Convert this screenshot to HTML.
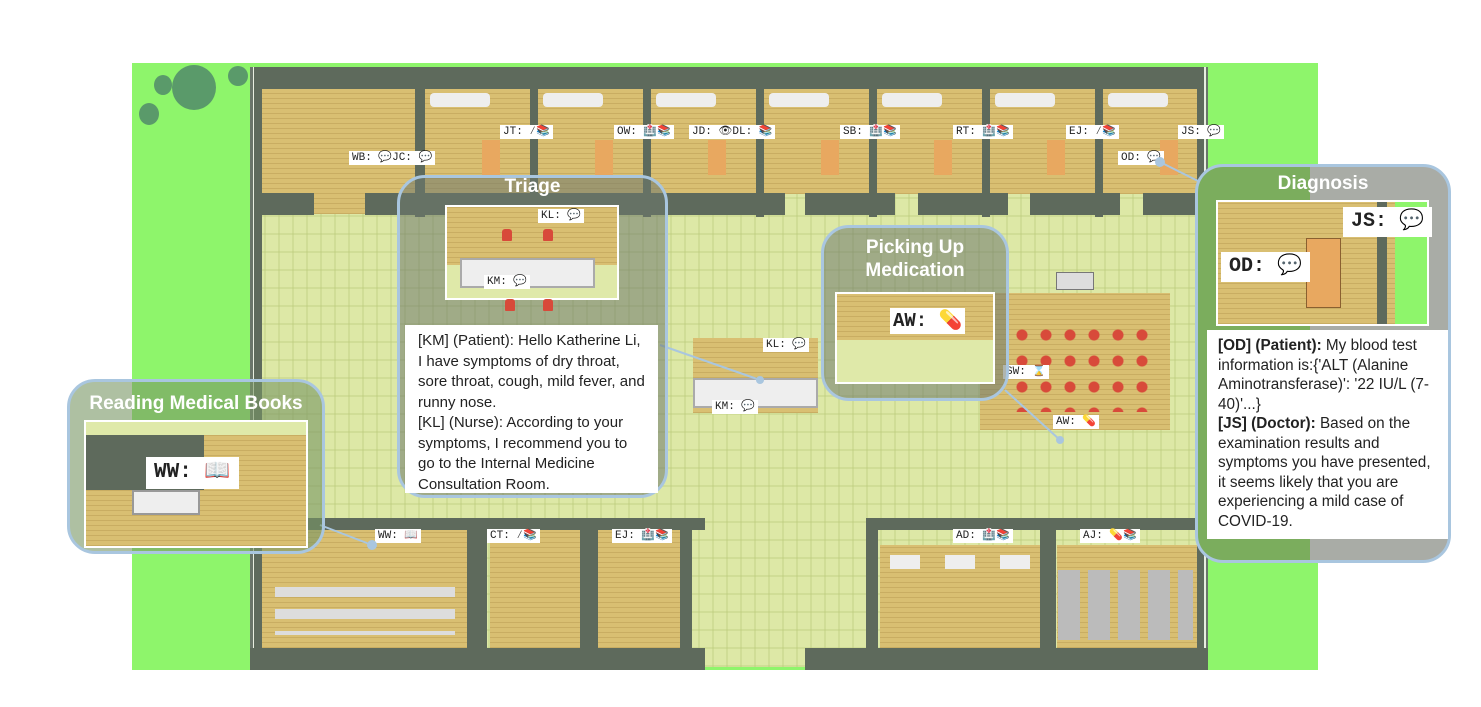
<!DOCTYPE html>
<html><head><meta charset="utf-8"><style>
body{margin:0;width:1481px;height:707px;background:#fff;position:relative;overflow:hidden;font-family:"Liberation Sans",sans-serif}
div{position:absolute;box-sizing:border-box}
.g{background:#8ef56b}
.hall{background:#dde8a6;background-image:repeating-linear-gradient(90deg,rgba(185,200,120,.35) 0 2px,transparent 2px 14px),repeating-linear-gradient(0deg,rgba(185,200,120,.35) 0 2px,transparent 2px 18px)}
.w{background:#5e6a5c}
.wood{background:#d9bf72;background-image:repeating-linear-gradient(0deg,#c9ad62 0 1px,transparent 1px 5px)}
.lbl{background:#fff;font-family:"Liberation Mono",monospace;font-size:11px;line-height:14px;padding:0 3px;color:#222}
.ov{border:3px solid #a9c6df;border-radius:28px;background:rgba(110,120,110,.55)}
.t{color:#fff;font-weight:bold;font-size:19px;text-align:center}
.tb{background:#fff;font-size:15px;line-height:20.5px;color:#222;padding:6px 11px}
.ch{background:#d84a3a;width:10px;height:12px;border-radius:3px 3px 1px 1px}
</style></head><body>
<div class="g" style="left:132px;top:63px;width:1186px;height:607px"></div>
<div class="hall" style="left:250px;top:67px;width:958px;height:600px"></div>
<div class="w" style="left:250px;top:67px;width:958px;height:22px"></div>
<div style="left:250px;top:67px;width:12px;height:600px;background:#e8eee0;border-left:3px solid #6a756a;border-right:8px solid #5e6a5c"></div>
<div style="left:1197px;top:67px;width:11px;height:600px;background:#e8eee0;border-left:7px solid #5e6a5c;border-right:2px solid #6a756a"></div>
<div class="wood" style="left:262px;top:89px;width:153px;height:125px"></div>
<div class="wood" style="left:425px;top:89px;width:105px;height:105px"></div>
<div class="wood" style="left:538px;top:89px;width:105px;height:105px"></div>
<div class="wood" style="left:651px;top:89px;width:105px;height:105px"></div>
<div class="wood" style="left:764px;top:89px;width:105px;height:105px"></div>
<div class="wood" style="left:877px;top:89px;width:105px;height:105px"></div>
<div class="wood" style="left:990px;top:89px;width:105px;height:105px"></div>
<div class="wood" style="left:1103px;top:89px;width:94px;height:105px"></div>
<div class="w" style="left:415px;top:67px;width:10px;height:150px"></div>
<div class="w" style="left:530px;top:67px;width:8px;height:150px"></div>
<div class="w" style="left:643px;top:67px;width:8px;height:150px"></div>
<div class="w" style="left:756px;top:67px;width:8px;height:150px"></div>
<div class="w" style="left:869px;top:67px;width:8px;height:150px"></div>
<div class="w" style="left:982px;top:67px;width:8px;height:150px"></div>
<div class="w" style="left:1095px;top:67px;width:8px;height:150px"></div>
<div class="w" style="left:262px;top:193px;width:52px;height:22px"></div>
<div class="w" style="left:365px;top:193px;width:420px;height:22px"></div>
<div class="w" style="left:805px;top:193px;width:90px;height:22px"></div>
<div class="w" style="left:918px;top:193px;width:90px;height:22px"></div>
<div class="w" style="left:1030px;top:193px;width:90px;height:22px"></div>
<div class="w" style="left:1143px;top:193px;width:54px;height:22px"></div>
<div style="left:482px;top:140px;width:18px;height:35px;background:#e8a860"></div>
<div style="left:595px;top:140px;width:18px;height:35px;background:#e8a860"></div>
<div style="left:708px;top:140px;width:18px;height:35px;background:#e8a860"></div>
<div style="left:821px;top:140px;width:18px;height:35px;background:#e8a860"></div>
<div style="left:934px;top:140px;width:18px;height:35px;background:#e8a860"></div>
<div style="left:1047px;top:140px;width:18px;height:35px;background:#e8a860"></div>
<div style="left:1160px;top:140px;width:18px;height:35px;background:#e8a860"></div>
<div style="left:430px;top:93px;width:60px;height:14px;background:#eee;border-radius:4px"></div>
<div style="left:543px;top:93px;width:60px;height:14px;background:#eee;border-radius:4px"></div>
<div style="left:656px;top:93px;width:60px;height:14px;background:#eee;border-radius:4px"></div>
<div style="left:769px;top:93px;width:60px;height:14px;background:#eee;border-radius:4px"></div>
<div style="left:882px;top:93px;width:60px;height:14px;background:#eee;border-radius:4px"></div>
<div style="left:995px;top:93px;width:60px;height:14px;background:#eee;border-radius:4px"></div>
<div style="left:1108px;top:93px;width:60px;height:14px;background:#eee;border-radius:4px"></div>
<div class="lbl" style="left:349px;top:151px">WB: 💬JC: 💬</div>
<div class="lbl" style="left:500px;top:125px">JT: ⁄📚</div>
<div class="lbl" style="left:614px;top:125px">OW: 🏥📚</div>
<div class="lbl" style="left:689px;top:125px">JD: 👁DL: 📚</div>
<div class="lbl" style="left:840px;top:125px">SB: 🏥📚</div>
<div class="lbl" style="left:953px;top:125px">RT: 🏥📚</div>
<div class="lbl" style="left:1066px;top:125px">EJ: ⁄📚</div>
<div class="lbl" style="left:1178px;top:125px">JS: 💬</div>
<div class="lbl" style="left:1118px;top:151px">OD: 💬</div>
<div class="wood" style="left:693px;top:338px;width:125px;height:75px"></div>
<div style="left:693px;top:378px;width:125px;height:30px;background:#eee;border:2px solid #aaa"></div>
<div class="lbl" style="left:763px;top:338px">KL: 💬</div>
<div class="lbl" style="left:712px;top:400px">KM: 💬</div>
<div class="wood" style="left:980px;top:293px;width:190px;height:137px"></div>
<div style="left:1056px;top:272px;width:38px;height:18px;background:#ddd;border:1px solid #777"></div>
<div style="left:1010px;top:322px;width:140px;height:90px;background-image:radial-gradient(circle,#d84a3a 0 5px,transparent 6px);background-size:24px 26px"></div>
<div class="lbl" style="left:1003px;top:365px">SW: ⌛</div>
<div class="lbl" style="left:1053px;top:415px">AW: 💊</div>
<div class="w" style="left:250px;top:518px;width:455px;height:12px"></div>
<div class="w" style="left:872px;top:518px;width:336px;height:12px"></div>
<div class="wood" style="left:262px;top:530px;width:205px;height:118px"></div>
<div class="wood" style="left:490px;top:530px;width:90px;height:118px"></div>
<div class="wood" style="left:598px;top:530px;width:82px;height:118px"></div>
<div class="wood" style="left:880px;top:545px;width:160px;height:103px"></div>
<div class="wood" style="left:1057px;top:545px;width:140px;height:103px"></div>
<div class="w" style="left:467px;top:518px;width:20px;height:130px"></div>
<div class="w" style="left:580px;top:518px;width:18px;height:130px"></div>
<div class="w" style="left:680px;top:518px;width:12px;height:130px"></div>
<div class="w" style="left:866px;top:518px;width:12px;height:130px"></div>
<div class="w" style="left:1040px;top:518px;width:16px;height:130px"></div>
<div class="w" style="left:250px;top:648px;width:455px;height:22px"></div>
<div class="w" style="left:805px;top:648px;width:403px;height:22px"></div>
<div style="left:1058px;top:570px;width:135px;height:70px;background-image:linear-gradient(90deg,#bbb 0 22px,transparent 22px 28px);background-size:30px 100%"></div>
<div style="left:890px;top:555px;width:140px;height:14px;background-image:linear-gradient(90deg,#eee 0 30px,transparent 30px 55px);background-size:55px 100%"></div>
<div style="left:275px;top:575px;width:180px;height:60px;background-image:linear-gradient(0deg,#ddd 0 10px,transparent 10px 22px);background-size:100% 22px"></div>
<div class="lbl" style="left:375px;top:529px">WW: 📖</div>
<div class="lbl" style="left:487px;top:529px">CT: ⁄📚</div>
<div class="lbl" style="left:612px;top:529px">EJ: 🏥📚</div>
<div class="lbl" style="left:953px;top:529px">AD: 🏥📚</div>
<div class="lbl" style="left:1080px;top:529px">AJ: 💊📚</div>
<div style="left:172px;top:65px;width:44px;height:45px;border-radius:50%;background:#5a9a6a"></div>
<div style="left:139px;top:103px;width:20px;height:22px;border-radius:50%;background:#5a9a6a"></div>
<div style="left:154px;top:75px;width:18px;height:20px;border-radius:50%;background:#5a9a6a"></div>
<div style="left:228px;top:66px;width:20px;height:20px;border-radius:50%;background:#5a9a6a"></div>
<svg style="position:absolute;left:0;top:0" width="1481" height="707"><g stroke="#a9c6df" stroke-width="2" fill="#a9c6df">
<line x1="660" y1="345" x2="760" y2="380"/><line x1="1005" y1="390" x2="1060" y2="440"/><line x1="320" y1="525" x2="372" y2="545"/><line x1="1160" y1="162" x2="1200" y2="182"/>
<circle cx="760" cy="380" r="3"/><circle cx="1060" cy="440" r="3"/><circle cx="372" cy="545" r="4"/><circle cx="1160" cy="162" r="4"/></g></svg>
<div class="ov" style="left:397px;top:175px;width:271px;height:323px"></div>
<div class="t" style="left:397px;top:176px;width:271px">Triage</div>
<div class="wood" style="left:445px;top:205px;width:174px;height:95px;border:2px solid #fff"></div>
<div style="left:447px;top:265px;width:170px;height:33px;background:#dfe9a9"></div>
<div style="left:460px;top:258px;width:135px;height:30px;background:#eee;border:2px solid #aaa"></div>
<div class="lbl" style="left:538px;top:209px">KL: 💬</div>
<div class="lbl" style="left:484px;top:275px">KM: 💬</div>
<div class="ch" style="left:502px;top:229px"></div><div class="ch" style="left:543px;top:229px"></div>
<div class="ch" style="left:505px;top:299px"></div><div class="ch" style="left:543px;top:299px"></div>
<div class="tb" style="left:405px;top:325px;width:253px;height:168px;padding:6px 10px 6px 13px">[KM] (Patient): Hello Katherine Li, I have symptoms of dry throat, sore throat, cough, mild fever, and runny nose.<br>[KL] (Nurse): According to your symptoms, I recommend you to go to the Internal Medicine Consultation Room.</div>
<div class="ov" style="left:821px;top:225px;width:188px;height:176px"></div>
<div class="t" style="left:821px;top:236px;width:188px;line-height:23px">Picking Up<br>Medication</div>
<div class="wood" style="left:835px;top:292px;width:160px;height:92px;border:2px solid #fff"></div>
<div style="left:837px;top:340px;width:156px;height:42px;background:#dfe9a9"></div>
<div class="lbl" style="left:890px;top:308px;font-size:19px;line-height:26px;font-weight:bold">AW: 💊</div>
<div class="ov" style="left:67px;top:379px;width:258px;height:175px;background:rgba(120,150,100,.6)"></div>
<div class="t" style="left:67px;top:393px;width:258px">Reading Medical Books</div>
<div class="wood" style="left:84px;top:420px;width:224px;height:128px;border:2px solid #fff"></div>
<div class="w" style="left:86px;top:435px;width:118px;height:55px"></div>
<div style="left:86px;top:422px;width:220px;height:13px;background:#dfe9a9"></div>
<div class="lbl" style="left:146px;top:457px;font-size:21px;line-height:32px;font-weight:bold;padding:0 8px">WW: 📖</div>
<div style="left:132px;top:490px;width:68px;height:25px;background:#eee;border:2px solid #999"></div>
<div class="ov" style="left:1195px;top:164px;width:256px;height:399px;background:linear-gradient(90deg,#7bad5d 0 112px,#a9aca6 112px)"></div>
<div class="t" style="left:1195px;top:173px;width:256px">Diagnosis</div>
<div class="wood" style="left:1216px;top:200px;width:213px;height:126px;border:2px solid #fff"></div>
<div style="left:1377px;top:202px;width:10px;height:122px;background:#5e6a5c"></div>
<div style="left:1395px;top:202px;width:32px;height:122px;background:#8ef56b"></div>
<div style="left:1306px;top:238px;width:35px;height:70px;background:#e8a860;border:1px solid #8a6030"></div>
<div class="lbl" style="left:1343px;top:207px;font-size:20px;line-height:30px;font-weight:bold;padding:0 8px">JS: 💬</div>
<div class="lbl" style="left:1221px;top:252px;font-size:20px;line-height:30px;font-weight:bold;padding:0 8px">OD: 💬</div>
<div class="tb" style="left:1207px;top:330px;width:241px;height:209px;font-size:15.3px;line-height:19.5px;padding:6px 8px 6px 11px"><b>[OD] (Patient):</b> My blood test information is:{'ALT (Alanine Aminotransferase)': '22 IU/L (7-40)'...}<br><b>[JS] (Doctor):</b> Based on the examination results and symptoms you have presented, it seems likely that you are experiencing a mild case of COVID-19.</div>
</body></html>
